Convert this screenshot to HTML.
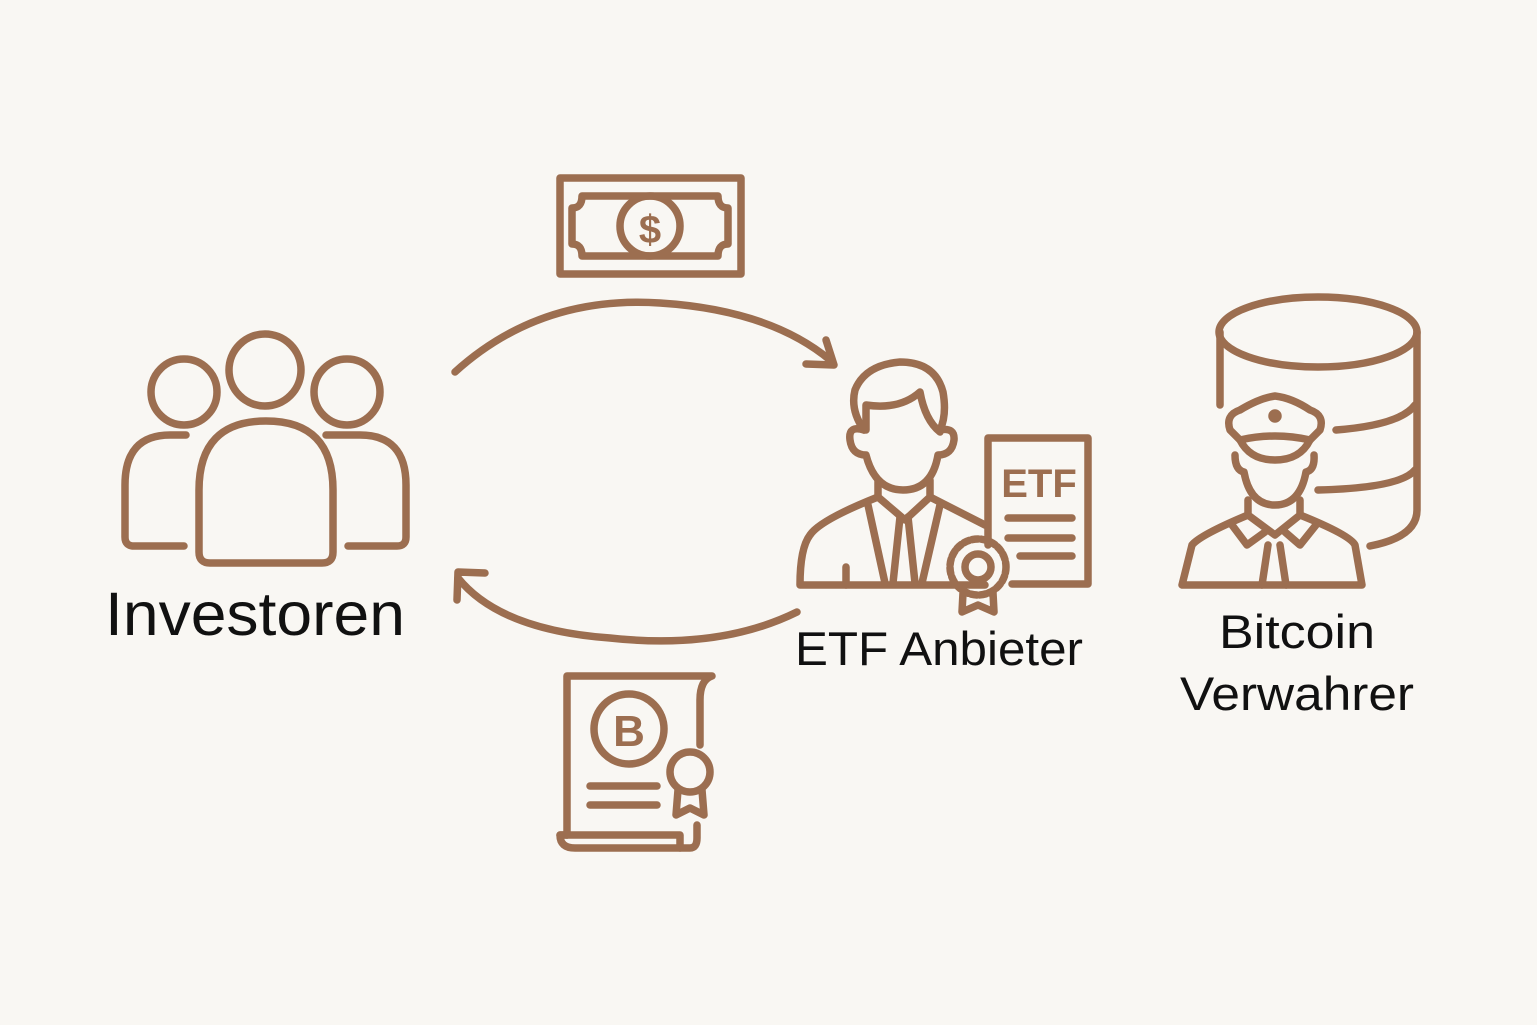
<!DOCTYPE html>
<html><head><meta charset="utf-8"><style>
html,body{margin:0;padding:0;background:#f9f7f3;}
svg{display:block}
text{font-family:"Liberation Sans",sans-serif;fill:#111;}
</style></head><body>
<svg width="1537" height="1025" viewBox="0 0 1537 1025" xmlns="http://www.w3.org/2000/svg">
<rect width="1537" height="1025" fill="#f9f7f3"/>
<g fill="none" stroke="#9c6e50" stroke-width="7.5" stroke-linecap="round" stroke-linejoin="round">
<!-- Investors -->
<circle cx="265" cy="370" r="36"/>
<circle cx="184" cy="392" r="33"/>
<circle cx="347" cy="392" r="33"/>
<path d="M199 552 L199 490 Q199 421 266 421 Q333 421 333 490 L333 552 Q333 563 322 563 L210 563 Q199 563 199 552 Z"/>
<path d="M186 435 L170 435 Q125 435 125 485 L125 537 Q125 546 134 546 L184 546"/>
<path d="M326 435 L360 435 Q406 435 406 485 L406 537 Q406 546 397 546 L348 546"/>
<!-- money -->
<rect x="560" y="178" width="181" height="96"/>
<path d="M582 196 L718 196 Q718 208 728 208 L728 244 Q718 244 718 256 L582 256 Q582 244 572 244 L572 208 Q582 208 582 196 Z"/>
<circle cx="650" cy="226" r="30"/>
<!-- arrows -->
<path d="M455 372 Q540 295 660 303 Q770 310 830 360"/>
<path d="M806 364 L834 365 L826 340"/>
<path d="M797 612 Q720 650 610 638 Q500 630 458 578"/>
<path d="M457 600 L458 572 L485 573"/>
<!-- bitcoin certificate -->
<path d="M567 835 L567 676 L712 676 Q700 680 700 700 L700 745"/>
<path d="M567 835 L560 835 Q560 848 575 848 L690 848 Q697 848 697 838 L697 825"/>
<path d="M560 835 L680 835 L680 848"/>
<circle cx="629" cy="729" r="35"/>
<line x1="590" y1="786" x2="657" y2="786"/>
<line x1="590" y1="805" x2="657" y2="805"/>
<circle cx="690" cy="772" r="20"/>
<path d="M678 790 L676 815 L690 808 L704 815 L702 790"/>
<!-- ETF person -->
<path d="M864 430 Q850 410 855 390 Q865 365 900 362 Q935 362 943 392 Q947 415 940 430"/>
<path d="M866 430 L866 405 Q900 410 920 392 Q925 420 940 432"/>
<path d="M864 430 Q848 425 850 440 Q852 455 866 455 Q875 490 903 490 Q932 490 938 455 Q952 455 954 440 Q955 427 940 430"/>
<path d="M878 480 L878 497 L905 520 L930 497 L930 480"/>
<path d="M878 497 Q820 520 810 535 Q800 548 800 585 L985 585"/>
<path d="M930 497 L985 525"/>
<path d="M868 505 L885 583 M940 505 L922 583"/>
<path d="M900 517 L893 583 M908 517 L915 583"/>
<line x1="846" y1="567" x2="846" y2="585"/>
<path d="M988 545 L988 438 L1088 438 L1088 584 L1012 584"/>
<line x1="1008" y1="518" x2="1072" y2="518"/>
<line x1="1008" y1="538" x2="1072" y2="538"/>
<line x1="1020" y1="556" x2="1072" y2="556"/>
<circle cx="978" cy="567" r="28" stroke-dasharray="6 3"/>
<circle cx="978" cy="567" r="13"/>
<path d="M963 593 L962 612 L978 605 L994 612 L993 593"/>
<!-- database -->
<ellipse cx="1318" cy="332" rx="99" ry="35"/>
<path d="M1220 332 L1220 405"/>
<path d="M1417 332 L1417 510 Q1417 537 1370 546"/>
<path d="M1336 430 Q1400 425 1415 405"/>
<path d="M1318 490 Q1400 488 1415 470"/>
<!-- guard -->
<path d="M1230 430 Q1225 415 1240 410 Q1260 398 1275 396 Q1292 398 1310 410 Q1325 415 1320 430 L1310 440 Q1275 432 1240 440 Z"/>
<path d="M1240 440 Q1250 460 1275 460 Q1300 460 1310 440"/>
<path d="M1235 455 Q1235 470 1244 472 Q1250 505 1275 505 Q1300 505 1306 472 Q1315 470 1314 455"/>
<circle cx="1275" cy="416" r="3" fill="#9c6e50"/>
<path d="M1248 500 L1248 515 L1275 535 L1300 515 L1300 500"/>
<path d="M1248 515 Q1200 535 1192 545 L1182 585 L1362 585 L1355 545 Q1350 535 1300 515"/>
<path d="M1232 525 L1247 545 L1265 532 M1316 525 L1300 545 L1285 532"/>
<path d="M1268 545 L1262 585 M1280 545 L1286 585"/>
</g>
<g font-weight="bold">
<text x="650" y="243" font-size="40" text-anchor="middle" style="fill:#9c6e50">$</text>
<text x="629" y="746" font-size="44" text-anchor="middle" style="fill:#9c6e50">B</text>
<text x="1039" y="497" font-size="40" text-anchor="middle" style="fill:#9c6e50">ETF</text>
</g>
<text x="105" y="635" font-size="61" textLength="300" lengthAdjust="spacingAndGlyphs">Investoren</text>
<text x="795" y="665" font-size="47" textLength="288" lengthAdjust="spacingAndGlyphs">ETF Anbieter</text>
<text x="1219" y="648" font-size="47" textLength="156" lengthAdjust="spacingAndGlyphs">Bitcoin</text>
<text x="1180" y="710" font-size="47" textLength="234" lengthAdjust="spacingAndGlyphs">Verwahrer</text>
</svg>
</body></html>
